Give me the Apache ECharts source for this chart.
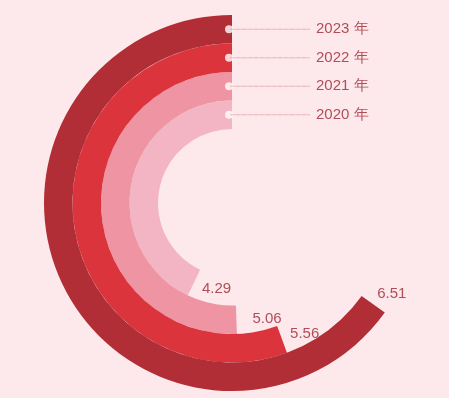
<!DOCTYPE html>
<html><head><meta charset="utf-8">
<script src="https://cdn.jsdelivr.net/npm/echarts@6/dist/echarts.min.js"></script>
<style>html,body{margin:0;padding:0;background:#fde8eb}#c{width:449px;height:398px}</style>
</head><body><div id="c"></div>
<script>
const years = ['2020', '2021', '2022', '2023'];
const values = [4.29, 5.06, 5.56, 6.51];
const yearLabels = ['2020 年', '2021 年', '2022 年', '2023 年'];
const angleMax = 10;

const ringColors = ['#f3b4c3', '#ee94a2', '#dc343d', '#b22e37'];
const labelOffsets = [[0, 6], [8, -1], [0, -5], [-4, -10]];
const textColor = '#9c2532';

const chart = echarts.init(document.getElementById('c'), null, {renderer: 'canvas'});
chart.setOption({
  backgroundColor: '#fde8eb',
  animation: false,
  polar: {center: [232, 203], radius: [74, 188]},
  angleAxis: {type: 'value', min: 0, max: angleMax, startAngle: 90, clockwise: false, show: false},
  radiusAxis: {type: 'category', data: years, show: false},
  series: [
    {
      type: 'bar', coordinateSystem: 'polar', barCategoryGap: '0%', barGap: '-100%',
      data: values.map((v, i) => ({value: v, itemStyle: {color: ringColors[i]}})),
      z: 1
    },
    {
      type: 'scatter', coordinateSystem: 'polar', symbolSize: 0, silent: true, z: 3,
      data: values.map((v, i) => ({
        value: [years[i], v],
        label: {offset: labelOffsets[i]}
      })),
      label: {
        show: true, position: 'right', distance: 8,
        formatter: p => values[p.dataIndex].toFixed(2),
        color: textColor, fontSize: 15, fontFamily: 'Liberation Sans, Arial, sans-serif'
      }
    },
    {
      type: 'scatter', coordinateSystem: 'polar', symbol: 'circle', symbolSize: 8,
      symbolOffset: [-3, 0], silent: true, z: 4,
      itemStyle: {color: '#ffffff'},
      data: years.map(y => [y, 0]),
      label: {
        show: true, position: 'right', distance: 0, offset: [-3, 0],
        formatter: p => '{l|}{t|' + yearLabels[p.dataIndex] + '}',
        rich: {
          l: {width: 80, height: 0, borderColor: 'rgba(200,80,90,0.7)', borderWidth: 0.6, borderType: 'dotted'},
          t: {color: textColor, fontSize: 15, fontFamily: 'Liberation Sans, Arial, sans-serif', padding: [0, 0, 0, 6]}
        }
      }
    }
  ]
});
</script></body></html>
